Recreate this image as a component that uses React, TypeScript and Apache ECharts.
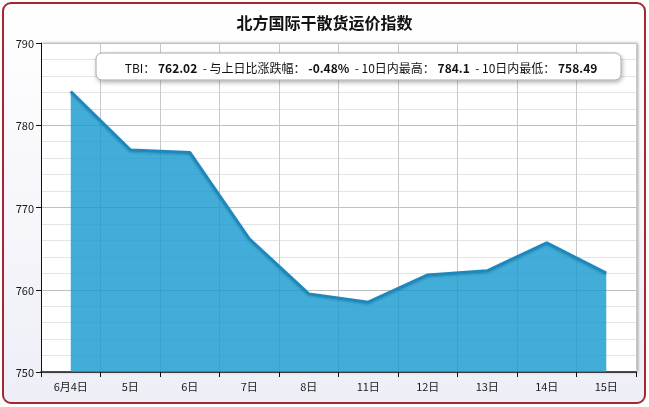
import React, { useRef, useEffect } from 'react';
import * as echarts from 'echarts';

const categories = ['6月4日', '5日', '6日', '7日', '8日', '11日', '12日', '13日', '14日', '15日'];
const tbiValues = [784.1, 777.0, 776.7, 766.2, 759.5, 758.49, 761.8, 762.3, 765.7, 762.02];
const yTicks = { min: 750, max: 790, step: 10 };
const summary = { tbi: '762.02', change: '-0.48%', high: '784.1', low: '758.49' };

const FONT = '"Noto Sans CJK SC", "Noto Sans", sans-serif';

const App: React.FC = () => {
  const chartRef = useRef<HTMLDivElement>(null);

  useEffect(() => {
    if (!chartRef.current) return;
    const chart = echarts.init(chartRef.current, undefined, { renderer: 'svg' });

    chart.setOption({
      animation: false,
      textStyle: { fontFamily: FONT },
      title: {
        text: '北方国际干散货运价指数',
        left: 'center',
        top: 9,
        textStyle: { fontSize: 16, fontWeight: 'bold', color: '#111', fontFamily: FONT },
      },
      grid: {
        left: 41,
        right: 13,
        top: 43,
        bottom: 35,
        show: true,
        backgroundColor: '#ffffff',
        borderWidth: 0,
        shadowColor: 'rgba(0,0,0,0.35)',
        shadowBlur: 3,
        shadowOffsetX: 2,
        shadowOffsetY: 0,
      },
      xAxis: {
        type: 'category',
        data: categories,
        boundaryGap: true,
        axisLine: { lineStyle: { color: '#111', width: 1.5 } },
        axisTick: { show: true, alignWithLabel: false, interval: 0, length: 5, lineStyle: { color: '#111' } },
        axisLabel: { color: '#1a1a1a', fontSize: 11, margin: 8, interval: 0, fontFamily: FONT },
        splitLine: { show: true, interval: 0, lineStyle: { color: '#c8c8c8', width: 1 } },
      },
      yAxis: {
        type: 'value',
        min: yTicks.min,
        max: yTicks.max,
        interval: yTicks.step,
        axisLine: { show: true, lineStyle: { color: '#111', width: 1 } },
        axisTick: { show: true, length: 5, lineStyle: { color: '#111' } },
        axisLabel: { color: '#1a1a1a', fontSize: 11, margin: 7, fontFamily: FONT },
        splitLine: { show: true, lineStyle: { color: '#c0c0c0', width: 1 } },
        minorTick: { show: false, splitNumber: 5 },
        minorSplitLine: { show: true, lineStyle: { color: '#e4e4e4', width: 1 } },
      },
      series: [
        {
          type: 'line',
          data: tbiValues,
          symbol: 'none',
          lineStyle: {
            color: '#1b88bd',
            width: 3,
            shadowColor: 'rgba(0,0,0,0.2)',
            shadowBlur: 2,
            shadowOffsetY: 1,
          },
          itemStyle: { color: '#1b88bd' },
          areaStyle: { color: 'rgba(18,152,206,0.8)', opacity: 1 },
        },
      ],
      graphic: [
        {
          type: 'rect',
          shape: { x: 96, y: 53, width: 525, height: 27, r: 6 },
          style: {
            fill: '#ffffff',
            stroke: '#a8a8a8',
            lineWidth: 1,
            shadowColor: 'rgba(0,0,0,0.3)',
            shadowBlur: 4,
            shadowOffsetX: 1,
            shadowOffsetY: 2,
          },
          z: 100,
        },
        {
          type: 'text',
          x: 361,
          y: 67,
          z: 101,
          style: {
            text:
              `TBI： {b|${summary.tbi}}  - 与上日比涨跌幅： {b|${summary.change}}  - 10日内最高： {b|${summary.high}}  - 10日内最低： {b|${summary.low}}`,
            align: 'center',
            verticalAlign: 'middle',
            fill: '#111',
            fontSize: 12,
            fontFamily: FONT,
            rich: {
              b: { fontWeight: 'bold', fontSize: 12, fill: '#111', fontFamily: FONT },
            },
          },
        },
      ],
    });

    return () => {
      chart.dispose();
    };
  }, []);

  return (
    <div style={{ position: 'fixed', left: 0, top: 0, width: 649, height: 407 }}>
      <div
        style={{
          position: 'absolute',
          left: 2,
          top: 2,
          width: 644,
          height: 402,
          boxSizing: 'border-box',
          border: '2px solid #a3282f',
          borderRadius: 9,
          background: 'linear-gradient(#ffffff, #eeeef7)',
        }}
      />
      <div ref={chartRef} style={{ position: 'absolute', left: 0, top: 0, width: 649, height: 407 }} />
    </div>
  );
};

export default App;
